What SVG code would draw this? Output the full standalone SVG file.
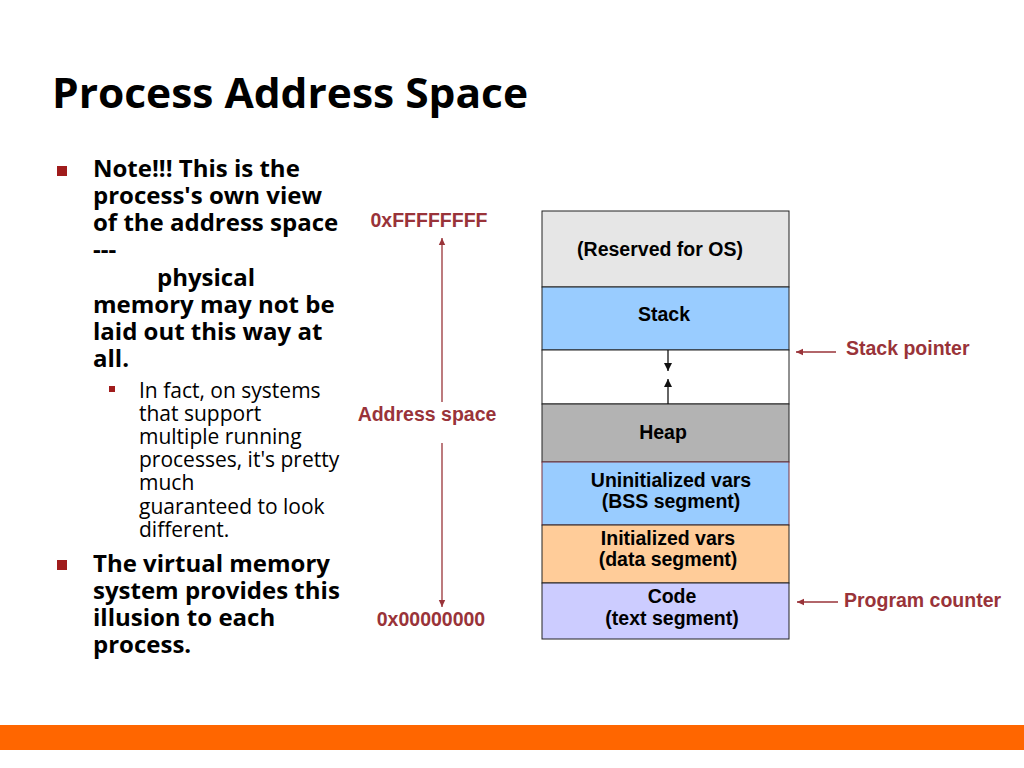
<svg xmlns="http://www.w3.org/2000/svg" width="1024" height="768" viewBox="0 0 1024 768">
<style>
.title{font-family:"Open Sans","Liberation Sans",sans-serif;font-weight:bold;font-size:42px;fill:#000}
.b1{font-family:"Open Sans","Liberation Sans",sans-serif;font-weight:bold;font-size:24px;fill:#000}
.b2{font-family:"Open Sans","Liberation Sans",sans-serif;font-size:21px;fill:#000}
.seg{stroke:#222;stroke-width:1}
.lab{font-family:"Liberation Sans",Arial,sans-serif;font-weight:bold;font-size:19.5px;fill:#000;text-anchor:middle}
.red{font-family:"Liberation Sans",Arial,sans-serif;font-weight:bold;font-size:19.5px;fill:#993339}
.rl{stroke:#993339;stroke-width:1.3;fill:none}
.kl{stroke:#111;stroke-width:1.3;fill:none}
</style>
<defs>
<marker id="ar" markerWidth="8" markerHeight="8" refX="7" refY="4" orient="auto" markerUnits="userSpaceOnUse">
<path d="M0,0.8 L7,4 L0,7.2 Z" fill="#993339"/>
</marker>
<marker id="ak" markerWidth="8" markerHeight="10" refX="8" refY="4" orient="auto" markerUnits="userSpaceOnUse">
<path d="M0,0 L8,4 L0,8 Z" fill="#111"/>
</marker>
</defs>
<rect width="1024" height="768" fill="#fff"/>
<text class="title" x="52" y="108" textLength="476" lengthAdjust="spacingAndGlyphs">Process Address Space</text>

<g id="bullets">
<rect x="57" y="166" width="10" height="10" fill="#a01c1c"/>
<text class="b1" x="93" y="177">Note!!! This is the</text>
<text class="b1" x="93" y="204">process's own view</text>
<text class="b1" x="93" y="231">of the address space</text>
<text class="b1" x="93" y="258">---</text>
<text class="b1" x="157" y="286">physical</text>
<text class="b1" x="93" y="313">memory may not be</text>
<text class="b1" x="93" y="340">laid out this way at</text>
<text class="b1" x="93" y="367">all.</text>
<rect x="109" y="386" width="6" height="6" fill="#a01c1c"/>
<text class="b2" x="139" y="398">In fact, on systems</text>
<text class="b2" x="139" y="421">that support</text>
<text class="b2" x="139" y="444">multiple running</text>
<text class="b2" x="139" y="467">processes, it's pretty</text>
<text class="b2" x="139" y="490">much</text>
<text class="b2" x="139" y="514">guaranteed to look</text>
<text class="b2" x="139" y="537">different.</text>
<rect x="57" y="560" width="10" height="10" fill="#a01c1c"/>
<text class="b1" x="93" y="572">The virtual memory</text>
<text class="b1" x="93" y="599">system provides this</text>
<text class="b1" x="93" y="626">illusion to each</text>
<text class="b1" x="93" y="653">process.</text>
</g>

<g id="seg-reserved"><rect class="seg" x="542" y="211" width="247" height="76" fill="#e6e6e6"/><text class="lab" x="660" y="256">(Reserved for OS)</text></g>
<g id="seg-stack"><rect class="seg" x="542" y="287" width="247" height="63" fill="#99ccff"/><text class="lab" x="664" y="321">Stack</text></g>
<g id="seg-free"><rect class="seg" x="542" y="350" width="247" height="54" fill="#fff"/></g>
<g id="seg-heap"><rect class="seg" x="542" y="404" width="247" height="58" fill="#b3b3b3"/><text class="lab" x="663" y="439">Heap</text></g>
<g id="seg-bss"><rect x="542" y="462" width="247" height="63" fill="#99ccff" stroke="#7a3340" stroke-width="1"/><text class="lab" x="671" y="487">Uninitialized vars</text><text class="lab" x="671" y="508">(BSS segment)</text></g>
<g id="seg-data"><rect class="seg" x="542" y="525" width="247" height="58" fill="#ffcc99"/><text class="lab" x="668" y="545">Initialized vars</text><text class="lab" x="668" y="566">(data segment)</text></g>
<g id="seg-code"><rect class="seg" x="542" y="583" width="247" height="56" fill="#ccccff"/><text class="lab" x="672" y="603">Code</text><text class="lab" x="672" y="625">(text segment)</text></g>

<g id="labels">
<text class="red" x="429" y="227" text-anchor="middle">0xFFFFFFFF</text>
<text class="red" x="427" y="421" text-anchor="middle">Address space</text>
<text class="red" x="431" y="626" text-anchor="middle">0x00000000</text>
<text class="red" x="846" y="355">Stack pointer</text>
<text class="red" x="844" y="607">Program counter</text>
</g>

<g id="connectors">
<line class="rl" x1="442" y1="402" x2="442" y2="238" marker-end="url(#ar)"/>
<line class="rl" x1="442" y1="443" x2="442" y2="607" marker-end="url(#ar)"/>
<line class="rl" x1="836" y1="352" x2="796" y2="352" marker-end="url(#ar)"/>
<line class="rl" x1="838" y1="602" x2="797" y2="602" marker-end="url(#ar)"/>
<line class="kl" x1="668" y1="350" x2="668" y2="371" marker-end="url(#ak)"/>
<line class="kl" x1="668" y1="404" x2="668" y2="379" marker-end="url(#ak)"/>
</g>

<rect x="0" y="725" width="1024" height="25" fill="#ff6600"/>
</svg>
